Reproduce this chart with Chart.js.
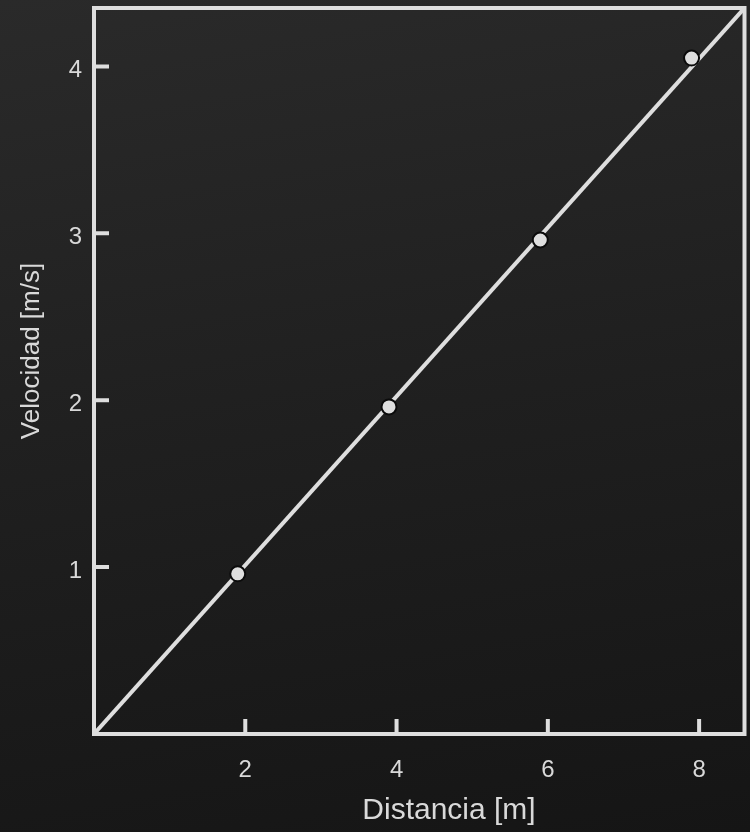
<!DOCTYPE html>
<html>
<head>
<meta charset="utf-8">
<script src="https://cdn.jsdelivr.net/npm/chart.js@4/dist/chart.umd.min.js"></script>
<style>
  html, body { margin: 0; padding: 0; }
  body {
    width: 750px; height: 832px; overflow: hidden;
    background: linear-gradient(170deg, #2a2a2a 0%, #1f1f1f 50%, #151515 100%);
  }
  #wrap { width: 750px; height: 832px; position: relative; }
</style>
</head>
<body>
<div id="wrap"><canvas id="c" width="750" height="832"></canvas></div>
<script>
// ---- data ----
const distancia = [1.9, 3.9, 5.9, 7.9];
const velocidad = [0.96, 1.96, 2.96, 4.05];
const fitX = [0, 8.6];
const fitY = [0, 4.35];
const xTicks = [2, 4, 6, 8];
const yTicks = [1, 2, 3, 4];
const xTitle = 'Distancia [m]';
const yTitle = 'Velocidad [m/s]';

const FG = '#dedede';
const TXT = '#d9d9d9';
const FONT = '"Liberation Sans", Arial, sans-serif';

const framePlugin = {
  id: 'frame',
  beforeDatasetsDraw(chart) {
    const { ctx, chartArea: a, scales } = chart;
    ctx.save();
    ctx.strokeStyle = FG;
    ctx.lineWidth = 4;
    ctx.lineJoin = 'miter';
    ctx.strokeRect(a.left, a.top, a.right - a.left, a.bottom - a.top);
    ctx.lineCap = 'butt';
    ctx.beginPath();
    xTicks.forEach(v => {
      const px = scales.x.getPixelForValue(v);
      ctx.moveTo(px, a.bottom);
      ctx.lineTo(px, a.bottom - 15);
    });
    yTicks.forEach(v => {
      const py = scales.y.getPixelForValue(v);
      ctx.moveTo(a.left, py);
      ctx.lineTo(a.left + 15, py);
    });
    ctx.stroke();
    ctx.restore();
  },
  afterDraw(chart) {
    const { ctx, chartArea: a } = chart;
    ctx.save();
    ctx.fillStyle = TXT;
    ctx.textAlign = 'center';
    ctx.textBaseline = 'middle';
    ctx.font = '30px ' + FONT;
    ctx.fillText(xTitle, 449, 811);
    ctx.translate(32, (a.top + a.bottom) / 2 - 20);
    ctx.rotate(-Math.PI / 2);
    ctx.font = '26px ' + FONT;
    ctx.fillText(yTitle, 0, 0);
    ctx.restore();
  }
};

new Chart(document.getElementById('c'), {
  type: 'scatter',
  data: {
    datasets: [
      {
        type: 'line',
        data: fitX.map((x, i) => ({ x, y: fitY[i] })),
        borderColor: FG,
        borderWidth: 4,
        pointRadius: 0,
        fill: false,
        order: 2
      },
      {
        data: distancia.map((x, i) => ({ x, y: velocidad[i] })),
        backgroundColor: FG,
        borderColor: '#0b0b0b',
        borderWidth: 2,
        pointRadius: 7.5,
        order: 1
      }
    ]
  },
  options: {
    responsive: false,
    animation: false,
    devicePixelRatio: 1,
    layout: { autoPadding: false, padding: { top: 8, right: 5.5, left: 0, bottom: 0 } },
    plugins: { legend: { display: false }, tooltip: { enabled: false } },
    scales: {
      x: {
        type: 'linear',
        min: 0, max: 8.6,
        grid: { display: false, drawTicks: false },
        border: { display: false },
        afterBuildTicks: s => { s.ticks = xTicks.map(v => ({ value: v })); },
        afterFit: s => { s.height = 98; s.paddingLeft = 0; s.paddingRight = 0; },
        ticks: { color: TXT, padding: 22, font: { size: 24, family: FONT } }
      },
      y: {
        type: 'linear',
        min: 0, max: 4.35,
        grid: { display: false, drawTicks: false },
        border: { display: false },
        afterBuildTicks: s => { s.ticks = yTicks.map(v => ({ value: v })); },
        afterFit: s => { s.width = 94; s.paddingTop = 0; s.paddingBottom = 0; },
        ticks: { color: TXT, padding: 12, labelOffset: 4, font: { size: 24, family: FONT } }
      }
    }
  },
  plugins: [framePlugin]
});
</script>
</body>
</html>
